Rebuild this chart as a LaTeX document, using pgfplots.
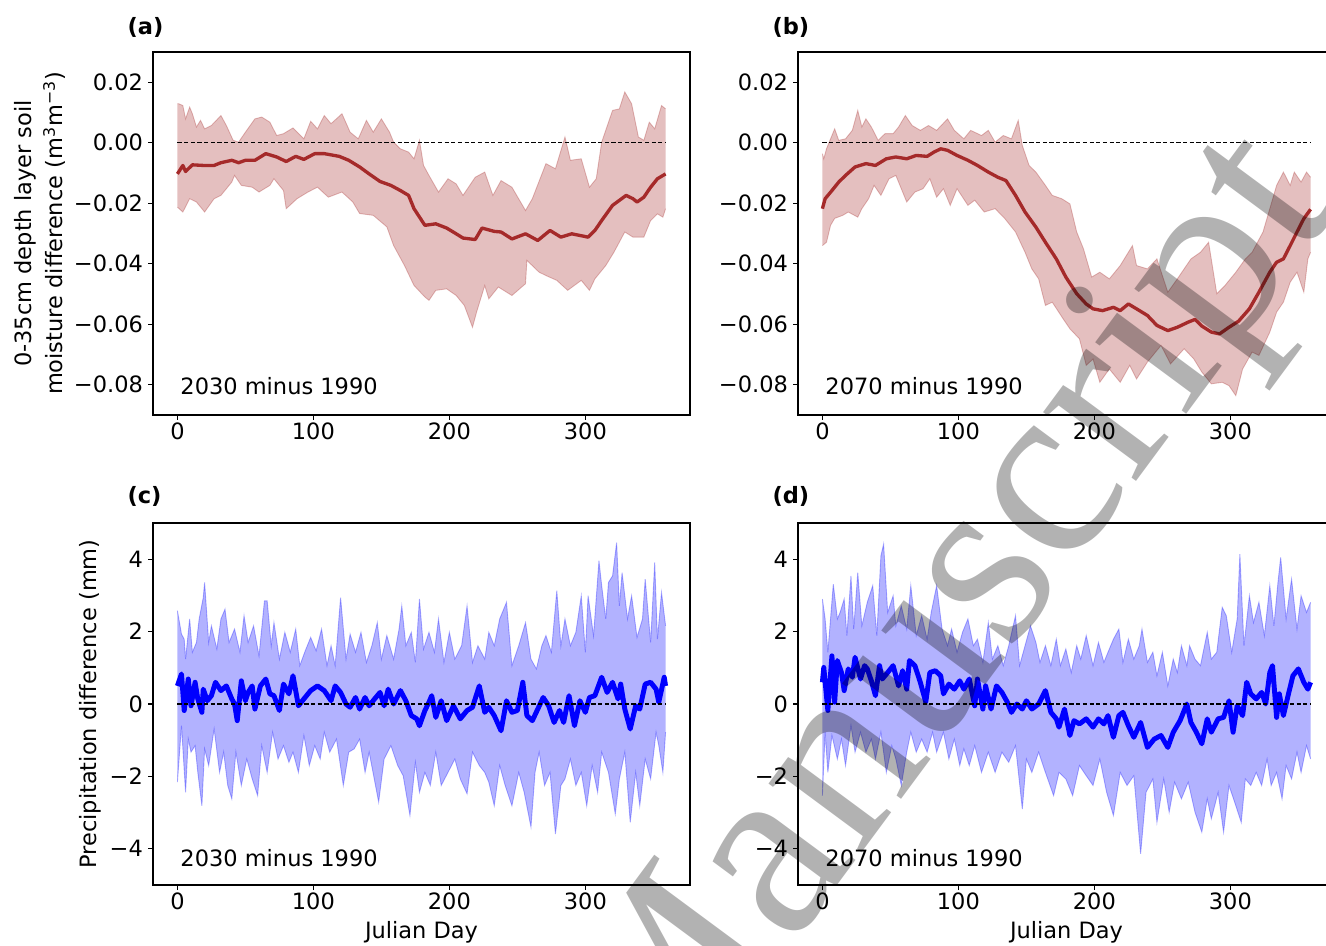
\documentclass[border=0pt]{standalone}
\usepackage{fontspec}
\setmainfont{DejaVu Sans}
\newfontfamily\wmfont{Liberation Serif}
\usepackage{pgfplots}
\pgfplotsset{compat=1.18}
\usepgfplotslibrary{fillbetween}

\definecolor{soil}{HTML}{A52A2A}
\definecolor{rain}{HTML}{0000FF}

\pgfplotsset{
  panel/.style={
    scale only axis, width=10.74cm,
    xmin=-17.95, xmax=376.95,
    xtick={0,100,200,300}, xticklabels={0,100,200,300},
    tick align=outside, tick pos=left, major tick length=0.1cm,
    axis line style={line width=0.7pt},
    every tick/.style={black, line width=0.7pt},
    scaled y ticks=false, scaled x ticks=false,
    yticklabel style={inner sep=2.7pt},
    xticklabel style={inner sep=1.5pt},
    clip mode=individual,
    anchor=south west,
  },
  soilax/.style={panel, height=7.26cm, ymin=-0.09, ymax=0.03,
    ytick={-0.08,-0.06,-0.04,-0.02,0,0.02},
    yticklabels={−0.08,−0.06,−0.04,−0.02,0.00,0.02}},
  rainax/.style={panel, height=7.24cm, ymin=-5, ymax=5,
    ytick={-4,-2,0,2,4}, yticklabels={−4,−2,0,2,4},
    xlabel={Julian Day},
    xlabel style={at={(rel axis cs:0.5,-0.13)}, anchor=center}},
  edge/.style={line width=0.5pt, draw opacity=0.3},
  zero/.style={black, line width=0.6pt, dash pattern=on 2.4pt off 1.4pt},
}

\begin{document}
\fontsize{12.8}{15.4}\selectfont
\begin{tikzpicture}

% (a) soil moisture, 2030 minus 1990
\begin{axis}[soilax, at={(3.06cm,-8.30cm)},
  ylabel={0-35cm depth layer soil\\moisture difference (m\textsuperscript{3}m\textsuperscript{−3})},
  ylabel style={align=center, font=\fontsize{12.8}{17.5}\selectfont,
    at={(rel axis cs:-0.2104,0.5)}, anchor=center}]
\addplot[name path=au, soil, edge] coordinates {
(0,0.0129)(1,0.0129)(4,0.0123)(6,0.0079)(9,0.0118)(11,0.0096)(14,0.0052)(17,0.0074)(20,0.0046)(25,0.0057)
(32,0.0090)(36,0.0057)(41,0.0008)(45,0.0002)(50,0.0035)(57,0.0079)(62,0.0085)(68,0.0068)(73,0.0024)(78,0.0030)
(85,0.0049)(93,0.0013)(98,0.0071)(103,0.0046)(108,0.0090)(113,0.0063)(121,0.0096)(127,0.0035)(133,0.0013)(139,0.0074)
(144,0.0035)(150,0.0079)(156,0.0035)(159,0.0002)(164,-0.0020)(170,-0.0031)(174,-0.0053)(178,0.0008)(181,-0.0075)(185,-0.0108)
(192,-0.0163)(199,-0.0119)(205,-0.0136)(210,-0.0174)(219,-0.0114)(226,-0.0097)(232,-0.0174)(238,-0.0125)(246,-0.0147)(256,-0.0224)
(261,-0.0185)(271,-0.0069)(278,-0.0086)(285,0.0019)(289,-0.0058)(297,-0.0053)(303,-0.0147)(308,-0.0119)(312,0.0002)(320,0.0107)
(325,0.0112)(329,0.0168)(334,0.0129)(339,0.0019)(343,0.0008)(347,0.0068)(351,0.0046)(356,0.0123)(359,0.0112)};
\addplot[name path=al, soil, edge] coordinates {
(0,-0.0213)(4,-0.0229)(9,-0.0185)(14,-0.0196)(20,-0.0229)(27,-0.0185)(32,-0.0174)(40,-0.0130)(42,-0.0108)(47,-0.0141)
(55,-0.0147)(60,-0.0163)(68,-0.0141)(71,-0.0119)(78,-0.0158)(80,-0.0218)(88,-0.0185)(96,-0.0163)(103,-0.0147)(111,-0.0180)
(121,-0.0163)(129,-0.0196)(134,-0.0234)(144,-0.0240)(154,-0.0278)(159,-0.0340)(167,-0.0406)(174,-0.0472)(182,-0.0510)(185,-0.0521)
(190,-0.0488)(198,-0.0483)(205,-0.0505)(211,-0.0538)(217,-0.0610)(220,-0.0560)(226,-0.0472)(229,-0.0516)(236,-0.0477)(246,-0.0505)
(256,-0.0466)(257,-0.0389)(266,-0.0428)(271,-0.0439)(279,-0.0455)(287,-0.0488)(297,-0.0455)(303,-0.0488)(307,-0.0450)(315,-0.0406)
(321,-0.0362)(329,-0.0295)(335,-0.0312)(343,-0.0312)(348,-0.0257)(353,-0.0235)(357,-0.0246)(359,-0.0218)};
\addplot[soil, fill opacity=0.3, draw=none] fill between[of=au and al];
\addplot[soil, line width=1.9pt, line join=round] coordinates {
(0,-0.0103)(4,-0.0075)(6,-0.0095)(11,-0.0073)(19,-0.0075)(27,-0.0075)(32,-0.0066)(40,-0.0058)(45,-0.0066)(50,-0.0058)
(57,-0.0058)(65,-0.0036)(73,-0.0047)(80,-0.0062)(87,-0.0045)(93,-0.0055)(101,-0.0036)(108,-0.0036)(119,-0.0045)(126,-0.0058)
(134,-0.0080)(141,-0.0103)(149,-0.0128)(157,-0.0141)(164,-0.0158)(170,-0.0174)(174,-0.0218)(182,-0.0273)(190,-0.0268)(198,-0.0282)
(205,-0.0301)(210,-0.0315)(219,-0.0320)(224,-0.0282)(233,-0.0293)(238,-0.0295)(246,-0.0318)(256,-0.0301)(265,-0.0323)(274,-0.0290)
(282,-0.0312)(290,-0.0301)(302,-0.0312)(307,-0.0290)(312,-0.0257)(320,-0.0207)(330,-0.0174)(335,-0.0185)(338,-0.0196)(343,-0.0180)
(348,-0.0147)(353,-0.0119)(359,-0.0103)};
\addplot[zero] coordinates {(0,0)(359,0)};
\node[anchor=west, inner sep=0pt] at (axis cs:2,-0.0803) {2030 minus 1990};
\node[anchor=west, inner sep=0pt, font=\bfseries] at (rel axis cs:-0.048,1.069) {(a)};
\end{axis}

% (b) soil moisture, 2070 minus 1990
\begin{axis}[soilax, at={(15.96cm,-8.30cm)}]
\addplot[name path=bu, soil, edge] coordinates {
(0,-0.0036)(1,-0.0053)(3,-0.0020)(7,0.0024)(9,0.0046)(12,0.0008)(17,0.0013)(22,0.0041)(26,0.0107)(29,0.0052)
(32,0.0079)(36,0.0052)(41,0.0008)(46,0.0030)(52,0.0030)(56,0.0052)(61,0.0090)(66,0.0057)(72,0.0041)(78,0.0057)
(84,0.0041)(92,0.0079)(97,0.0041)(104,0.0013)(109,0.0041)(117,0.0024)(122,0.0041)(127,0.0002)(133,0.0024)(139,0.0013)
(144,0.0074)(147,-0.0009)(152,-0.0075)(157,-0.0097)(164,-0.0141)(169,-0.0174)(176,-0.0185)(182,-0.0202)(187,-0.0295)(192,-0.0351)
(198,-0.0444)(204,-0.0428)(211,-0.0450)(219,-0.0406)(228,-0.0340)(231,-0.0406)(239,-0.0417)(246,-0.0384)(254,-0.0494)(261,-0.0450)
(271,-0.0384)(278,-0.0362)(284,-0.0329)(290,-0.0499)(296,-0.0472)(304,-0.0428)(311,-0.0384)(316,-0.0362)(324,-0.0295)(329,-0.0218)
(334,-0.0141)(339,-0.0097)(344,-0.0141)(347,-0.0097)(352,-0.0130)(356,-0.0097)(359,-0.0114)};
\addplot[name path=bl, soil, edge] coordinates {
(0,-0.0340)(3,-0.0329)(6,-0.0273)(9,-0.0250)(15,-0.0240)(19,-0.0229)(26,-0.0246)(29,-0.0218)(34,-0.0185)(38,-0.0141)
(43,-0.0174)(49,-0.0119)(54,-0.0108)(62,-0.0196)(68,-0.0163)(74,-0.0152)(79,-0.0119)(84,-0.0180)(89,-0.0152)(94,-0.0207)
(99,-0.0152)(107,-0.0207)(112,-0.0190)(119,-0.0229)(127,-0.0218)(134,-0.0250)(142,-0.0295)(149,-0.0362)(154,-0.0417)(159,-0.0450)
(164,-0.0538)(169,-0.0527)(177,-0.0582)(182,-0.0615)(189,-0.0648)(194,-0.0736)(199,-0.0715)(204,-0.0792)(211,-0.0748)(219,-0.0792)
(226,-0.0736)(231,-0.0781)(239,-0.0725)(249,-0.0670)(256,-0.0731)(266,-0.0681)(273,-0.0714)(279,-0.0758)(286,-0.0797)(294,-0.0792)
(299,-0.0803)(304,-0.0836)(309,-0.0748)(316,-0.0692)(321,-0.0703)(329,-0.0626)(334,-0.0560)(339,-0.0527)(344,-0.0461)(349,-0.0428)
(354,-0.0494)(357,-0.0384)(359,-0.0362)};
\addplot[soil, fill opacity=0.3, draw=none] fill between[of=bu and bl];
\addplot[soil, line width=1.9pt, line join=round] coordinates {
(0,-0.0218)(2,-0.0185)(7,-0.0158)(12,-0.0130)(17,-0.0108)(24,-0.0080)(32,-0.0069)(39,-0.0075)(47,-0.0053)(54,-0.0047)
(62,-0.0053)(69,-0.0042)(77,-0.0045)(82,-0.0031)(87,-0.0020)(92,-0.0025)(99,-0.0042)(107,-0.0058)(114,-0.0075)(122,-0.0097)
(129,-0.0114)(135,-0.0125)(142,-0.0174)(149,-0.0229)(157,-0.0279)(164,-0.0329)(172,-0.0384)(179,-0.0444)(187,-0.0499)(194,-0.0533)
(199,-0.0549)(206,-0.0555)(214,-0.0544)(219,-0.0555)(225,-0.0533)(231,-0.0549)(239,-0.0571)(246,-0.0604)(254,-0.0621)(261,-0.0610)
(269,-0.0593)(274,-0.0584)(279,-0.0606)(286,-0.0626)(292,-0.0632)(299,-0.0610)(306,-0.0590)(314,-0.0549)(321,-0.0494)(329,-0.0428)
(334,-0.0395)(339,-0.0384)(344,-0.0340)(349,-0.0295)(354,-0.0251)(359,-0.0220)};
\addplot[zero] coordinates {(0,0)(359,0)};
\node[anchor=west, inner sep=0pt] at (axis cs:2,-0.0803) {2070 minus 1990};
\node[anchor=west, inner sep=0pt, font=\bfseries] at (rel axis cs:-0.048,1.069) {(b)};
\end{axis}

% (c) precipitation, 2030 minus 1990
\begin{axis}[rainax, at={(3.06cm,-17.70cm)},
  ylabel={Precipitation difference (mm)},
  ylabel style={at={(rel axis cs:-0.1173,0.5)}, anchor=center}]
\addplot[name path=cu, rain, edge] coordinates {
(0,2.58)(3,1.93)(5,1.79)(6,1.24)(9,2.35)(11,1.43)(14,1.70)(16,2.35)(19,2.94)(20,3.36)(23,1.70)(25,2.16)(29,1.52)(32,2.35)
(35,2.62)(38,1.70)(42,2.07)(46,1.43)(49,2.44)(52,1.70)(56,2.16)(60,1.33)(64,2.85)(66,2.85)(69,1.61)(71,2.25)(75,1.24)(79,1.98)
(83,1.43)(87,2.07)(90,1.06)(94,1.47)(98,1.84)(102,1.47)(106,2.07)(110,1.06)(113,1.61)(116,1.06)(120,2.94)(124,1.24)(127,1.93)
(131,1.43)(135,1.98)(139,1.15)(143,1.61)(147,2.25)(150,1.24)(154,1.89)(159,1.24)(163,2.07)(165,2.71)(168,1.61)(172,1.98)(175,1.15)
(178,2.90)(181,1.52)(185,1.98)(189,1.43)(192,2.35)(196,1.15)(200,1.98)(204,1.24)(209,1.61)(213,2.71)(217,1.15)(221,1.61)(226,1.24)
(229,1.98)(233,1.61)(237,2.35)(242,2.81)(246,1.06)(251,1.61)(256,2.25)(260,1.24)(264,0.97)(268,1.61)(271,1.89)(275,1.43)(279,3.13)
(282,1.61)(285,2.35)(289,1.61)(293,1.98)(297,2.99)(300,1.43)(302,2.99)(306,1.89)(310,3.96)(312,3.27)(315,2.35)(317,3.36)(320,3.54)
(323,4.46)(325,2.71)(327,3.63)(331,2.35)(334,2.99)(338,1.84)(342,2.35)(344,3.45)(348,1.70)(351,3.91)(353,1.79)(356,3.08)(359,2.16)};
\addplot[name path=cl, rain, edge] coordinates {
(0,-2.16)(3,-0.60)(6,-2.44)(8,-0.97)(10,-1.33)(13,-1.15)(15,-1.89)(18,-2.81)(20,-1.24)(23,-1.70)(27,-0.69)(31,-1.89)(34,-1.33)
(37,-2.25)(40,-2.62)(43,-1.33)(47,-2.25)(51,-1.52)(55,-2.07)(59,-2.53)(62,-1.15)(66,-1.89)(70,-0.78)(74,-1.52)(78,-1.15)(82,-1.61)
(85,-1.33)(89,-1.89)(93,-0.87)(97,-1.70)(101,-1.15)(105,-1.52)(108,-0.78)(112,-1.33)(117,-0.97)(122,-2.25)(126,-1.33)(130,-1.24)
(134,-0.97)(138,-1.89)(141,-1.33)(148,-2.71)(152,-1.52)(157,-1.15)(162,-1.70)(166,-1.98)(171,-3.08)(175,-1.61)(178,-2.44)(182,-1.89)
(186,-2.25)(190,-1.33)(194,-2.25)(199,-1.89)(204,-1.52)(208,-2.07)(213,-2.48)(217,-1.33)(222,-1.70)(226,-1.89)(229,-2.16)(233,-2.81)
(237,-1.70)(241,-2.25)(246,-2.81)(251,-1.89)(255,-2.44)(260,-3.40)(263,-1.89)(266,-1.33)(270,-2.25)(274,-1.89)(278,-3.59)(282,-2.25)
(285,-2.07)(289,-1.52)(293,-2.25)(297,-1.89)(301,-2.81)(305,-1.70)(309,-2.44)(312,-1.33)(317,-1.89)(322,-3.04)(325,-2.07)(329,-1.33)
(333,-3.27)(337,-1.89)(340,-2.81)(344,-1.52)(348,-2.07)(352,-0.78)(354,-1.15)(357,-1.89)(359,-0.78)};
\addplot[rain, fill opacity=0.3, draw=none] fill between[of=cu and cl];
\addplot[rain, line width=2.8pt, line join=round] coordinates {
(0,0.50)(3,0.83)(5,-0.18)(8,0.69)(10,-0.05)(13,0.60)(15,0.14)(18,-0.23)(19,0.41)(22,0.09)(25,0.23)(28,0.60)(32,0.37)(36,0.50)
(40,0.14)(42,0.00)(44,-0.46)(47,0.64)(50,0.09)(52,0.32)(55,0.50)(57,-0.14)(61,0.50)(65,0.69)(68,0.28)(71,0.23)(75,-0.18)(78,0.55)
(82,0.28)(85,0.78)(89,-0.05)(93,0.14)(98,0.37)(103,0.50)(108,0.37)(113,0.09)(116,0.50)(120,0.32)(124,0.00)(127,-0.09)(131,0.18)
(134,-0.14)(138,0.18)(141,-0.05)(145,0.14)(149,0.32)(152,-0.05)(155,0.41)(159,0.00)(164,0.37)(168,0.09)(172,-0.32)(176,-0.41)
(178,-0.60)(182,-0.18)(185,0.05)(187,0.23)(190,-0.37)(194,0.09)(198,-0.46)(203,-0.05)(208,-0.41)(213,-0.18)(217,-0.09)(222,0.50)
(226,-0.23)(229,-0.09)(233,-0.32)(238,-0.74)(242,0.09)(246,-0.23)(250,-0.18)(254,0.60)(257,-0.32)(261,-0.46)(265,-0.14)(269,0.18)
(273,-0.05)(277,-0.51)(281,-0.18)(284,-0.51)(288,0.23)(292,-0.60)(296,0.09)(300,-0.23)(303,0.18)(307,0.23)(312,0.74)(316,0.32)
(320,0.60)(324,0.14)(326,0.55)(329,-0.14)(333,-0.69)(337,-0.05)(340,-0.14)(344,0.55)(348,0.60)(352,0.41)(354,0.05)(358,0.74)(359,0.50)};
\addplot[zero] coordinates {(0,0)(359,0)};
\node[anchor=west, inner sep=0pt] at (axis cs:2,-4.25) {2030 minus 1990};
\node[anchor=west, inner sep=0pt, font=\bfseries] at (rel axis cs:-0.048,1.072) {(c)};
\end{axis}

% (d) precipitation, 2070 minus 1990
\begin{axis}[rainax, at={(15.96cm,-17.70cm)}]
\addplot[name path=du, rain, edge] coordinates {
(0,2.90)(2,2.35)(4,1.43)(8,3.31)(11,2.35)(13,2.53)(16,2.90)(18,1.89)(21,3.54)(23,2.07)(26,3.63)(29,2.16)(33,2.81)(37,3.27)
(40,1.89)(43,4.09)(45,4.42)(48,2.53)(52,2.99)(54,2.16)(58,2.71)(62,2.07)(65,3.27)(69,1.89)(73,2.44)(77,1.79)(80,2.53)(84,3.27)
(88,2.07)(92,1.61)(95,2.07)(99,1.43)(103,1.98)(107,2.35)(111,1.61)(114,1.79)(118,1.15)(122,2.25)(125,1.24)(129,1.61)(133,1.06)
(137,1.61)(142,2.44)(145,1.06)(149,1.61)(153,2.16)(157,1.70)(160,1.15)(164,1.61)(168,1.06)(172,1.79)(175,1.06)(179,1.52)(183,0.87)
(187,1.61)(190,1.24)(194,1.89)(199,1.06)(203,1.70)(207,1.15)(210,1.43)(214,1.79)(218,2.07)(221,1.15)(225,1.79)(229,1.24)(233,1.61)
(235,2.07)(239,1.15)(243,1.43)(246,0.78)(250,1.43)(254,0.50)(258,1.24)(261,0.87)(264,1.61)(268,1.06)(270,1.61)(274,1.24)(278,1.06)
(283,1.98)(286,1.24)(290,1.43)(294,2.67)(297,2.44)(301,1.43)(305,2.35)(307,4.14)(310,1.61)(314,2.99)(317,2.25)(321,2.81)(325,1.89)
(329,3.27)(332,2.16)(335,3.36)(337,4.05)(341,2.35)(345,3.45)(349,2.07)(352,2.99)(356,2.53)(359,2.81)};
\addplot[name path=dl, rain, edge] coordinates {
(0,-2.53)(2,-0.78)(4,-1.89)(7,-0.87)(11,-1.52)(14,-0.97)(17,-1.70)(21,-0.60)(24,-1.33)(28,-0.78)(32,-1.33)(36,-0.97)(39,-1.52)
(43,-0.78)(47,-1.89)(51,-1.15)(54,-1.52)(58,-2.25)(62,-1.33)(65,-0.78)(69,-1.33)(73,-0.97)(77,-1.33)(81,-0.78)(84,-1.33)(89,-0.78)
(93,-1.52)(97,-0.97)(101,-1.70)(104,-1.24)(108,-1.70)(112,-1.15)(117,-1.89)(122,-1.33)(127,-1.89)(132,-1.33)(137,-1.61)(142,-1.15)
(147,-2.90)(150,-1.52)(154,-1.89)(159,-1.33)(164,-1.89)(170,-2.53)(174,-1.89)(179,-2.07)(184,-2.53)(189,-1.70)(194,-1.98)(199,-2.25)
(204,-1.52)(209,-2.44)(214,-3.08)(219,-1.89)(224,-2.25)(229,-1.98)(234,-4.14)(238,-2.44)(243,-2.07)(246,-3.27)(251,-2.07)(255,-2.99)
(259,-2.16)(264,-2.62)(269,-2.16)(274,-2.99)(279,-3.54)(283,-2.62)(286,-3.17)(291,-2.44)(295,-3.54)(299,-2.25)(304,-2.81)(308,-3.27)
(311,-2.07)(315,-2.25)(319,-1.89)(323,-2.25)(327,-1.52)(330,-2.25)(334,-1.89)(338,-2.62)(341,-1.70)(345,-2.07)(349,-1.33)(352,-1.89)
(356,-1.15)(359,-1.52)};
\addplot[rain, fill opacity=0.3, draw=none] fill between[of=du and dl];
\addplot[rain, line width=2.8pt, line join=round] coordinates {
(0,0.60)(1,1.01)(4,-0.18)(7,1.33)(9,0.05)(11,1.20)(14,0.87)(16,0.37)(19,0.97)(22,0.74)(24,1.29)(28,0.69)(31,1.06)(33,0.97)
(36,0.64)(39,0.23)(42,1.06)(44,0.69)(48,0.87)(52,1.06)(56,0.50)(59,0.92)(62,0.41)(64,1.20)(68,1.06)(72,0.60)(76,0.05)(79,0.87)
(83,0.92)(87,0.78)(89,0.28)(93,0.55)(97,0.41)(101,0.64)(104,0.41)(108,0.69)(112,-0.05)(114,0.69)(118,-0.14)(120,0.50)(124,-0.14)
(128,0.50)(132,0.32)(136,0.05)(139,-0.23)(143,0.00)(147,-0.14)(150,0.09)(154,-0.14)(159,0.00)(164,0.37)(168,-0.23)(172,-0.41)
(174,-0.64)(178,-0.14)(182,-0.87)(185,-0.46)(189,-0.55)(194,-0.41)(199,-0.64)(203,-0.41)(207,-0.55)(210,-0.32)(214,-0.92)(218,-0.32)
(221,-0.23)(225,-0.60)(229,-0.92)(234,-0.51)(239,-1.20)(244,-0.97)(249,-0.87)(254,-1.20)(258,-0.78)(263,-0.46)(268,0.00)(271,-0.51)
(275,-0.78)(279,-1.10)(283,-0.41)(286,-0.78)(291,-0.41)(295,-0.37)(299,0.09)(302,-0.78)(305,-0.05)(309,-0.32)(312,0.60)(315,0.28)
(319,0.14)(323,0.32)(326,0.00)(329,0.87)(331,1.06)(334,-0.37)(336,0.28)(339,-0.32)(343,0.32)(346,0.78)(350,0.97)(354,0.60)(357,0.41)(359,0.60)};
\addplot[zero] coordinates {(0,0)(359,0)};
\node[anchor=west, inner sep=0pt] at (axis cs:2,-4.25) {2070 minus 1990};
\node[anchor=west, inner sep=0pt, font=\bfseries] at (rel axis cs:-0.048,1.072) {(d)};
\end{axis}

% watermark over the figure
\node[rotate=53.5, anchor=base west, inner sep=0pt, text=black, text opacity=0.3,
  font=\wmfont\fontsize{143.4}{144}\selectfont] at (13.17,-22.55) {Manuscript};

\pgfresetboundingbox
\useasboundingbox (0,0) rectangle (26.52,-18.92);
\end{tikzpicture}
\end{document}
